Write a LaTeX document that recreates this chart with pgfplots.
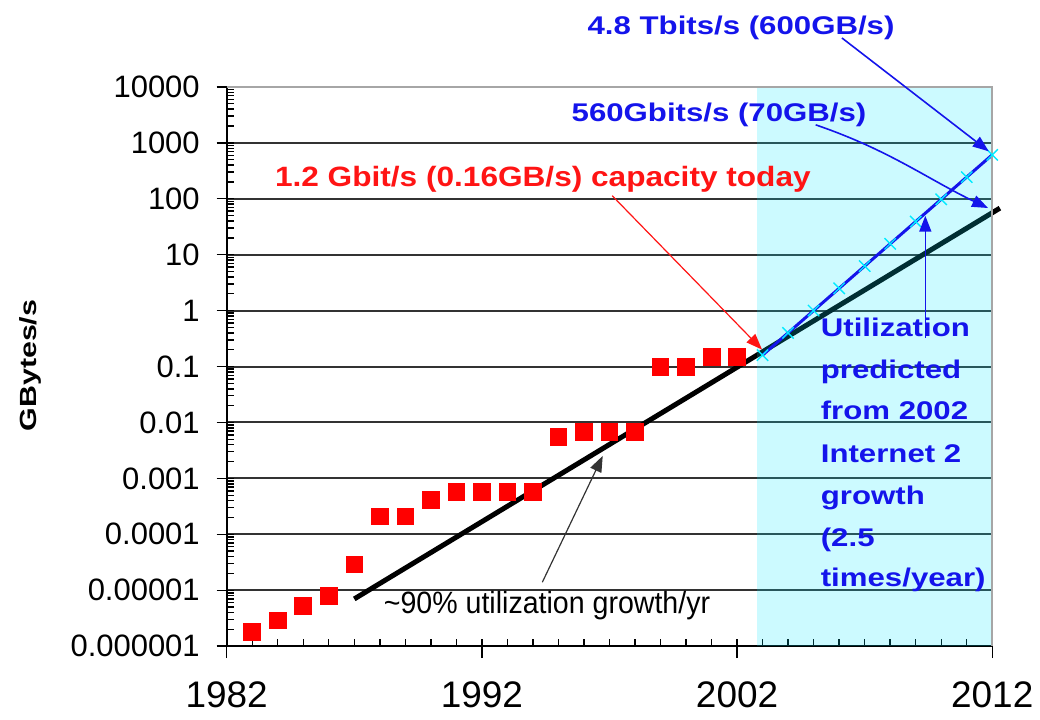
\documentclass[border=0pt]{standalone}
\usepackage{fontspec}
\setmainfont{Liberation Sans}
\usepackage{graphicx}
\usepackage{pgfplots}
\pgfplotsset{compat=1.18}
\usetikzlibrary{arrows.meta}
\definecolor{annblue}{RGB}{20,20,235}
\definecolor{annred}{RGB}{255,20,20}
\definecolor{gridc}{RGB}{50,50,50}
\definecolor{overlayc}{RGB}{0,230,255}
\definecolor{markc}{RGB}{0,235,255}
\newcommand\bt[1]{\scalebox{1.22}[1]{\fontsize{12.8}{15}\selectfont\bfseries #1}}
\newcommand\rt[1]{\scalebox{1.13}[1]{\fontsize{14}{16}\selectfont\bfseries #1}}
\begin{document}
\begin{tikzpicture}
\begin{scope}[shift={(-113.5pt,323.5pt)},x=0.5pt,y=-0.5pt]
\path[use as bounding box] (0,0) rectangle (1040,720);
\end{scope}
\begin{axis}[at={(0pt,0pt)},anchor=south west,scale only axis,
  width=383.25pt,height=280pt,
  xmin=1982,xmax=2012,ymode=log,ymin=1e-6,ymax=1e4,
  axis lines=left, axis line style={-,black,line width=1pt},
  xtick={1982,1992,2002,2012},
  xticklabels={\mbox{1982},\mbox{1992},\mbox{2002},\mbox{2012}},
  minor x tick num=9,
  ytick={1e-6,1e-5,1e-4,1e-3,1e-2,1e-1,1,10,100,1000,10000},
  yticklabels={\mbox{0.000001},\mbox{0.00001},\mbox{0.0001},\mbox{0.001},\mbox{0.01},\mbox{0.1},\mbox{1},\mbox{10},\mbox{100},\mbox{1000},\mbox{10000}},
  minor ytick={2e-6,3e-6,4e-6,5e-6,6e-6,7e-6,8e-6,9e-6,
    2e-5,3e-5,4e-5,5e-5,6e-5,7e-5,8e-5,9e-5,
    2e-4,3e-4,4e-4,5e-4,6e-4,7e-4,8e-4,9e-4,
    2e-3,3e-3,4e-3,5e-3,6e-3,7e-3,8e-3,9e-3,
    0.02,0.03,0.04,0.05,0.06,0.07,0.08,0.09,
    0.2,0.3,0.4,0.5,0.6,0.7,0.8,0.9,
    2,3,4,5,6,7,8,9,
    20,30,40,50,60,70,80,90,
    200,300,400,500,600,700,800,900,
    2000,3000,4000,5000,6000,7000,8000,9000},
  ymajorgrids, major grid style={gridc,line width=1pt},
  tick align=inside, major tick length=3.5pt, minor tick length=3.5pt,
  tick style={black,line width=0.7pt},
  extra y ticks={1e-6,1e-5,1e-4,1e-3,1e-2,1e-1,1,10,100,1000,10000},
  extra y tick labels={},
  extra y tick style={tick align=outside,major tick length=5pt,grid=none},
  extra x ticks={1982,1992,2002,2012},
  extra x tick labels={},
  extra x tick style={tick align=outside,major tick length=6pt,grid=none},
  yticklabel style={font=\fontsize{15.5}{18}\selectfont,xshift=-10pt},
  xticklabel style={font=\fontsize{18.5}{22}\selectfont,yshift=-14pt},
  clip=false,
]
\addplot[only marks,mark=square*,mark size=4.2pt,color=red] coordinates {
 (1983,1.8e-6) (1984,2.9e-6) (1985,5.2e-6) (1986,7.9e-6) (1987,2.9e-5)
 (1988,2.1e-4) (1989,2.1e-4) (1990,4.1e-4) (1991,5.7e-4) (1992,5.7e-4)
 (1993,5.7e-4) (1994,5.7e-4) (1995,5.6e-3) (1996,6.7e-3) (1997,6.7e-3)
 (1998,6.7e-3) (1999,0.1) (2000,0.1) (2001,0.15) (2002,0.15)};
\addplot[black,line width=2.5pt] coordinates {(1987,7e-6) (2012.3,68)};
\fill[overlayc,opacity=0.2] (axis cs:2002.8,1e-6) rectangle (axis cs:2012,1e4);
\addplot[annblue,line width=1.5pt,mark=x,mark size=4pt,
  mark options={markc,line width=0.7pt,solid}] coordinates {
 (2003,0.16) (2004,0.4) (2005,1.0) (2006,2.5) (2007,6.25) (2008,15.63)
 (2009,39.06) (2010,97.66) (2011,244.1) (2012,610.4)};
\draw[gray!70,line width=1pt] (rel axis cs:0,1) -- (rel axis cs:1,1) -- (rel axis cs:1,0);
\end{axis}
\begin{scope}[shift={(-113.5pt,323.5pt)},x=0.5pt,y=-0.5pt]
\node[anchor=base west,inner sep=0,text=annblue] at (588,35) {\bt{4.8 Tbits/s (600GB/s)}};
\node[anchor=base west,inner sep=0,text=annblue] at (572,122) {\bt{560Gbits/s (70GB/s)}};
\node[anchor=base west,inner sep=0,text=annred] at (275,187) {\rt{1.2 Gbit/s (0.16GB/s) capacity today}};
\node[anchor=base west,inner sep=0,text=annblue] at (821.5,336.7) {\bt{Utilization}};
\node[anchor=base west,inner sep=0,text=annblue] at (821.5,379) {\bt{predicted}};
\node[anchor=base west,inner sep=0,text=annblue] at (821.5,420) {\bt{from 2002}};
\node[anchor=base west,inner sep=0,text=annblue] at (821.5,463) {\bt{Internet 2}};
\node[anchor=base west,inner sep=0,text=annblue] at (821.5,505) {\bt{growth}};
\node[anchor=base west,inner sep=0,text=annblue] at (821.5,547) {\bt{(2.5}};
\node[anchor=base west,inner sep=0,text=annblue] at (821.5,587) {\bt{times/year)}};
\node[anchor=base west,inner sep=0,text=black] at (384,614) {\scalebox{1.0}[1.08]{\fontsize{14.3}{16}\selectfont\textasciitilde 90\% utilization growth/yr}};
\node[rotate=90,inner sep=0,text=black] at (30,366) {\scalebox{1.3}[1]{\fontsize{11.7}{14}\selectfont\bfseries GBytes/s}};
\draw[annblue,line width=0.8pt,-{Triangle[length=8pt,width=6pt]}] (843,38) -- (990,151.5);
\draw[annblue,line width=0.8pt,-{Triangle[length=8pt,width=6pt]}] (816.7,125) .. controls (890,150) and (930,180) .. (989.3,208.3);
\draw[annblue,line width=0.8pt,-{Triangle[length=8pt,width=6pt]}] (926.5,338) -- (926.5,216);
\draw[annred,line width=0.6pt,-{Triangle[length=8pt,width=6pt]}] (613,196) -- (763,350);
\draw[black!80,line width=0.6pt,-{Triangle[length=8pt,width=6pt]}] (543,583) -- (603.5,456.5);
\end{scope}
\end{tikzpicture}
\end{document}
